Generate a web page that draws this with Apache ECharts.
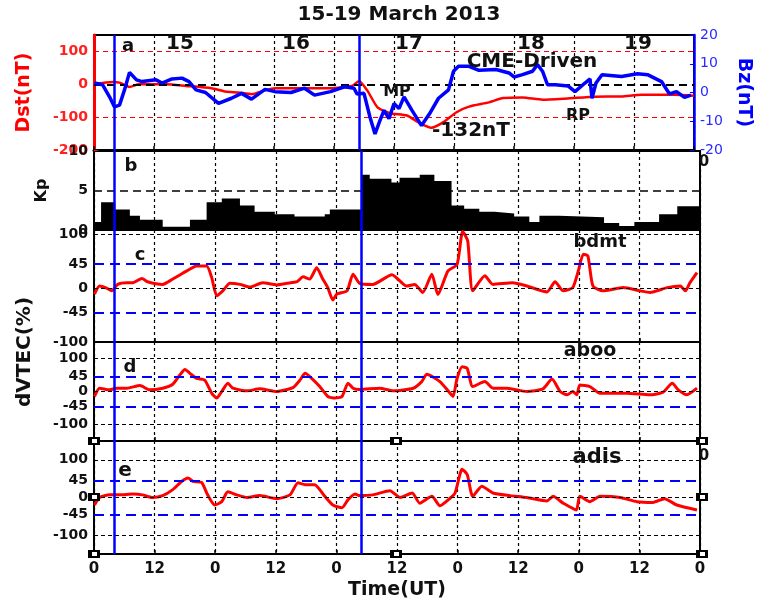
<!DOCTYPE html>
<html><head><meta charset="utf-8">
<script src="https://cdn.jsdelivr.net/npm/echarts@6/dist/echarts.min.js"></script>
<style>html,body{margin:0;padding:0;background:#fff}#c{width:761px;height:605px}</style>
</head><body><div id="c"></div>
<script>
// ---- data (time in hours since 15 March 2013 00 UT) ----
const dstHours = [0,3.7,5.1,7.1,9.0,14.4,18.4,23.5,26.3,28.9,31.5,34.2,36.2,40.8,47.3,51.6,53.0,54.7,56.7,59.2,62.6,65.1,67.5,69.9,72.5,75.0,79.0,81.8,85.7,89.7,94.8,100.2,105.5,109.5,116.1,120];
const dstValues = [0,7,5,-8,0,0,-5,-12,-22,-25,-30,-18,-12,-12,-12,-5,10,-20,-70,-88,-95,-118,-132,-115,-85,-68,-55,-42,-40,-47,-43,-38,-37,-32,-32,-35];

const bzHours = [0.1,1.7,3.1,4.1,5.1,6.1,7.1,8.5,9.6,12.4,13.6,15.6,17.6,19.0,20.4,22.3,24.9,27.5,29.5,31.5,34.2,36.2,39.4,42.1,44.1,47.3,50.1,52.0,52.6,54.0,55.2,56.2,57.2,58.0,59.0,60.0,61.0,62.0,63.6,65.5,67.1,68.9,70.9,71.9,72.9,75.0,77.0,80.4,83.0,84.0,85.7,87.7,88.7,89.7,90.7,92.3,94.8,96.2,98.2,99.2,99.6,100.4,101.6,105.5,108.7,110.7,113.5,115.1,116.5,118.1,119.4];
const bzValues = [3.3,2.7,-1.5,-5,-4.4,0.9,7,4.4,3.8,4.4,3.3,4.7,5,3.8,0.9,0,-3.8,-2,-0.3,-2.3,1.1,0.3,0,1.5,-0.9,0.3,2,1.5,-0.5,-0.3,-8.6,-14.4,-9.7,-6.2,-9.1,-3.8,-5.6,-1.5,-6.2,-11.5,-7.4,-2,0.9,7.4,9.1,9.1,7.7,8,6.8,5.4,6.2,7.4,9.7,7.4,2.7,2.7,2.3,0.3,3.3,4.7,-2,3.3,6.2,5.6,6.5,6.2,3.8,-0.5,0.3,-1.7,-0.9];

const kpHours = [0,1.4,4.2,7.1,9.1,13.6,19.0,22.3,25.3,28.9,31.8,35.8,39.7,45.7,46.7,53.0,54.6,58.9,60.5,64.5,67.4,70.8,73.3,76.3,79.3,83.2,86.2,88.2,92.1,101.0,104.0,107.0,111.9,115.5,120];
const kpValues = [1.0,3.5,2.6,1.8,1.3,0.4,1.3,3.5,4.0,3.1,2.3,2.0,1.7,2.0,2.6,7.0,6.5,6.0,6.6,7.0,6.2,3.1,2.7,2.3,2.1,1.7,1.0,1.8,1.6,0.9,0.5,1.0,2.0,3.0,3.0];

const bdmtHours = [0.1,1.1,2.5,3.5,4.7,6.5,7.7,9.5,10.6,13.6,15.6,18.4,20.3,22.3,23.3,24.3,25.5,26.9,28.9,30.9,33.4,36.2,38.2,40.2,41.4,42.7,44.1,45.3,46.3,47.3,48.1,50.1,51.3,52.6,55.2,59.0,61.9,63.5,65.1,66.9,68.1,70.1,71.9,73.0,74.0,75.0,77.4,79.0,82.9,85.7,89.7,91.3,92.9,94.8,95.9,96.9,97.8,98.8,100.8,104.8,108.1,110.1,113.5,116.1,117.1,118.0,119.4];
const bdmtValues = [-11,4,0,-5,7,10,10,18,12,7,17,32,41,41,20,-14,-5,9,7,2,10,6,9,12,21,17,38,17,1,-22,-11,-5,26,9,7,25,4,7,-8,26,-12,32,44,105,88,-5,23,7,10,4,-7,12,-5,1,32,63,60,4,-5,1,-5,-8,1,4,-5,10,29];

const abooHours = [0.1,1.1,3.1,4.5,6.5,9.1,11.0,13.6,15.6,17.0,18.0,19.0,20.3,21.9,23.3,24.3,25.3,26.5,27.5,30.3,32.8,36.2,39.4,40.8,41.8,43.1,44.7,46.3,47.7,49.1,50.3,51.3,52.6,56.6,59.2,63.2,64.9,65.9,68.5,70.5,71.1,71.9,72.9,73.9,75.0,77.4,79.0,81.8,85.7,88.9,90.7,92.3,93.7,94.8,95.6,96.2,98.2,100.2,105.5,110.1,112.7,114.5,115.7,117.4,119.4];
const abooValues = [-15,10,5,10,10,18,5,10,22,50,67,55,40,35,-5,-20,0,25,10,2,8,0,12,35,55,40,15,-15,-20,-15,25,10,6,10,2,10,30,52,30,-5,-15,40,75,70,15,30,10,10,0,8,38,0,-10,0,-10,20,15,-5,-5,-10,-2,25,5,-10,10];

const adisHours = [0.1,1.1,3.1,5.1,7.7,9.6,11.6,13.6,15.6,17.4,18.6,19.6,21.3,22.5,23.9,25.3,26.5,28.3,30.3,32.8,36.2,38.8,40.4,41.8,43.7,45.7,47.3,49.1,50.3,51.7,52.6,55.2,58.6,60.6,63.0,64.5,66.9,68.5,70.5,71.5,72.9,73.9,75.0,76.8,79.0,82.4,85.7,89.7,90.9,92.9,95.5,96.2,98.2,100.2,104.2,107.5,110.7,113.0,115.4,119.4];
const adisValues = [-20,0,7,7,9,7,0,5,21,43,52,43,40,7,-20,-11,15,7,0,5,-3,7,39,34,34,3,-20,-27,-6,9,5,7,18,0,12,-15,3,-22,-2,12,75,61,3,30,12,5,0,-9,3,-15,-33,3,-11,3,0,-11,-13,-3,-20,-33];

const eventHours = [4.1, 53.0];
const dstTicks = [-200,-100,0,100];
const dstLines = [-100,100];
const kpTicks = [0,5,10];
const tecTicks = [-100,-45,0,45,100];
const tecBlackLines = [-100,0,100];
const tecBlueLines = [-45,45];
const timeTickLabels = ['0','12'];
const dayLabels = ['15','16','17','18','19'];

// ---- layout ----
const FONT = 'DejaVu Sans';
const grids = [
  {left:94, right:61, top:35, height:115},
  {left:94, right:61, top:151, height:79},
  {left:94, right:61, top:230, height:112},
  {left:94, right:61, top:342, height:99},
  {left:94, right:61, top:441, height:113}
];
const zip = (a,b) => a.map((h,i)=>[h,b[i]]);

const ml = (data, z) => ({
  type:'line', data:[], xAxisIndex:z.x, yAxisIndex:z.y, z:z.z, silent:true,
  markLine:{symbol:['none','none'], silent:true, animation:false, label:{show:false}, data:data}
});
const vBlue = eventHours.map(h=>({xAxis:h, lineStyle:{color:'#0000ff', width:2.5, type:'solid'}}));
const tecLines = [].concat(
  tecBlackLines.map(v=>({yAxis:v, lineStyle:{color:'#000', width:1, type:[4,3]}})),
  tecBlueLines.map(v=>({yAxis:v, lineStyle:{color:'#0000ff', width:2, type:[10,6]}}))
);

const boldLabel = (c,s)=>({color:c, fontFamily:FONT, fontWeight:'bold', fontSize:s});

const xAxis = grids.map((g,i)=>({
  type:'value', gridIndex:i, min:0, max:120, interval:12,
  axisLine:{show:true, onZero:false, lineStyle:{color:'#000', width: i===0?3:2}},
  axisTick:{show:true, inside:true, length:4, lineStyle:{color:'#000', width:1.5}},
  axisLabel:Object.assign({show:i===4, margin:8, showMinLabel:true, showMaxLabel:true,
    formatter:v=>timeTickLabels[Math.round(v/12)%2]}, boldLabel('#111',15)),
  splitLine:{show:true, lineStyle:{color:'#000', type:[3,3], width:1.2}},
  name: i===4 ? 'Time(UT)' : '', nameLocation:'middle', nameGap:27,
  nameTextStyle: boldLabel('#111',19)
}));

const tecAxis = (gi, min, max) => ({
  type:'value', gridIndex:gi, min:min, max:max,
  axisLine:{show:true, onZero:false, lineStyle:{color:'#000', width:2}},
  axisTick:{show:false},
  axisLabel:Object.assign({customValues:tecTicks, margin:6, showMinLabel:true, showMaxLabel:true}, boldLabel('#111',14)),
  splitLine:{show:false}
});

const yAxis = [
  { type:'value', gridIndex:0, position:'left', min:-200, max:150,
    axisLine:{show:true, onZero:false, lineStyle:{color:'#ff0000', width:3}},
    axisTick:{show:true, inside:true, length:4, customValues:dstTicks, lineStyle:{color:'#ff0000'}},
    axisLabel:Object.assign({customValues:dstTicks, margin:6}, boldLabel('#ff2020',14)),
    splitLine:{show:false},
    name:'Dst(nT)', nameLocation:'middle', nameRotate:90, nameGap:60,
    nameTextStyle:boldLabel('#ff0000',19) },
  { type:'value', gridIndex:0, position:'right', min:-20, max:20, interval:10,
    axisLine:{show:true, onZero:false, lineStyle:{color:'#0000ff', width:2.5}},
    axisTick:{show:true, inside:true, length:4, lineStyle:{color:'#0000ff'}},
    axisLabel:{color:'#2a2aff', fontFamily:FONT, fontSize:14, margin:6},
    splitLine:{show:false},
    name:'Bz(nT)', nameLocation:'middle', nameRotate:-90, nameGap:40,
    nameTextStyle:boldLabel('#0000ff',19) },
  { type:'value', gridIndex:1, min:0, max:10, interval:5,
    axisLine:{show:true, onZero:false, lineStyle:{color:'#000', width:2}},
    axisTick:{show:false},
    axisLabel:Object.assign({margin:6}, boldLabel('#111',14)),
    splitLine:{show:true, lineStyle:{color:'#000', type:[8,5], width:1.5}},
    name:'Kp', nameLocation:'middle', nameRotate:90, nameGap:44,
    nameTextStyle:boldLabel('#111',16) },
  tecAxis(2,-100,108),
  tecAxis(3,-150,150),
  tecAxis(4,-150,150)
];

const redLine = (x,y,d,w)=>({type:'line', xAxisIndex:x, yAxisIndex:y, data:d, showSymbol:false, z:4,
  smooth:0.2, lineStyle:{color:'#ff0000', width:w}, animation:false});

const series = [
  ml([].concat(
      dstLines.map(v=>({yAxis:v, lineStyle:{color:'#ff0000', width:1, type:[5,4]}})),
      [{yAxis:0, lineStyle:{color:'#000', width:2, type:[8,5]}}],
      vBlue), {x:0,y:0,z:1}),
  redLine(0,0,zip(dstHours,dstValues),2.5),
  {type:'line', xAxisIndex:0, yAxisIndex:1, data:zip(bzHours,bzValues), showSymbol:false, z:5,
    lineStyle:{color:'#0000ff', width:3.5}, animation:false},
  {type:'line', xAxisIndex:1, yAxisIndex:2, data:zip(kpHours,kpValues), showSymbol:false, step:'end', z:2,
    lineStyle:{width:0, color:'#000'}, areaStyle:{color:'#000', opacity:1}, animation:false},
  ml(vBlue, {x:1,y:2,z:6}),
  ml(tecLines.concat(vBlue), {x:2,y:3,z:1}),
  redLine(2,3,zip(bdmtHours,bdmtValues),3),
  ml(tecLines.concat(vBlue), {x:3,y:4,z:1}),
  redLine(3,4,zip(abooHours,abooValues),3),
  ml(tecLines.concat(vBlue), {x:4,y:5,z:1}),
  redLine(4,5,zip(adisHours,adisValues),3)
];

// ---- annotations ----
const txt = (t,x,y,s,c,extra)=>Object.assign({type:'text', x:x, y:y, z:100, silent:true,
  style:{text:t, fill:c||'#111', font:'bold '+s+'px "'+FONT+'"', align:'center', verticalAlign:'middle'}}, extra||{});
const dayX = [180,296,409,531,638];
const graphic = [
  txt('15-19 March 2013',399,15,20),
  txt('a',128,46,18),
  ...dayLabels.map((d,i)=>txt(d,dayX[i],44,20)),
  txt('MP',397,92,16),
  txt('CME-Driven',532,62,20),
  txt('-132nT',471,131,20),
  txt('RP',578,116,16),
  txt('b',131,166,18),
  txt('c',140,255,18),
  txt('bdmt',600,242,18),
  txt('d',130,367,18),
  txt('aboo',590,351,19),
  txt('e',125,471,20),
  txt('adis',597,458,21),
  txt('dVTEC(%)',25,352,20,'#111',{rotation:Math.PI/2}),
  txt('0',704,162,15),
  txt('0',704,456,15)
];
[[94,441],[94,497],[94,554],[396,441],[396,554],[702,441],[702,497],[702,554]].forEach(p=>{
  graphic.push({type:'rect', z:100, silent:true, shape:{x:p[0]-6,y:p[1]-4,width:12,height:8}, style:{fill:'#000'}});
  graphic.push({type:'rect', z:101, silent:true, shape:{x:p[0]-2,y:p[1]-2,width:5,height:4}, style:{fill:'#fff'}});
});

const chart = echarts.init(document.getElementById('c'), null, {renderer:'canvas'});
chart.setOption({
  animation:false,
  backgroundColor:'#fff',
  grid: grids.map(g=>Object.assign({show:true, borderColor:'#000', borderWidth:2, backgroundColor:'transparent'}, g)),
  xAxis:xAxis, yAxis:yAxis, series:series, graphic:graphic
});
</script></body></html>
